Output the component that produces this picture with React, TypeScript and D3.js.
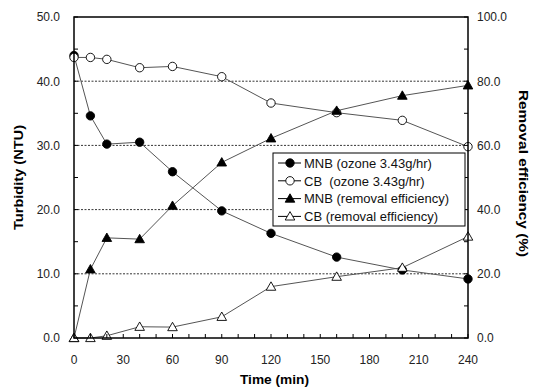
import * as d3 from "d3";

const times = [0, 10, 20, 40, 60, 90, 120, 160, 200, 240];
const mnbTurbidity = [44.0, 34.6, 30.2, 30.5, 25.9, 19.8, 16.3, 12.6, 10.6, 9.2];
const cbTurbidity = [43.7, 43.7, 43.4, 42.1, 42.3, 40.7, 36.6, 35.1, 33.9, 29.8];
const mnbRemoval = [0, 21.4, 31.2, 30.8, 41.2, 54.7, 62.2, 70.8, 75.5, 78.7];
const cbRemoval = [0, 0, 0.7, 3.5, 3.4, 6.6, 16.0, 19.1, 21.9, 31.6];

const xTicks = [0, 30, 60, 90, 120, 150, 180, 210, 240];
const leftTicks = [0, 10, 20, 30, 40, 50];
const rightTicks = [0, 20, 40, 60, 80, 100];
const gridValues = [10, 20, 30, 40];

const legendLabels = [
  "MNB (ozone 3.43g/hr)",
  "CB\u00a0 (ozone 3.43g/hr)",
  "MNB (removal efficiency)",
  "CB (removal efficiency)",
];

const W = 534;
const H = 392;
const m = { left: 74, right: 468, top: 17, bottom: 338 };
const font = "'Liberation Sans', Arial, sans-serif";

type Marker = "circleFilled" | "circleOpen" | "triFilled" | "triOpen";

const MarkerShape = ({ type, x, y }: { type: Marker; x: number; y: number }) => {
  if (type === "circleFilled" || type === "circleOpen") {
    return (
      <circle
        cx={x}
        cy={y}
        r={4.2}
        fill={type === "circleFilled" ? "#000" : "#fff"}
        stroke="#000"
        strokeWidth={0.9}
      />
    );
  }
  const s = 4.8;
  const pts = `${x},${y - s} ${x + s},${y + s * 0.75} ${x - s},${y + s * 0.75}`;
  return (
    <polygon
      points={pts}
      fill={type === "triFilled" ? "#000" : "#fff"}
      stroke="#000"
      strokeWidth={0.9}
    />
  );
};

export default function App() {
  const x = d3.scaleLinear().domain([0, 240]).range([m.left, m.right]);
  const yL = d3.scaleLinear().domain([0, 50]).range([m.bottom, m.top]);
  const yR = d3.scaleLinear().domain([0, 100]).range([m.bottom, m.top]);

  const series: { vals: number[]; y: d3.ScaleLinear<number, number>; marker: Marker }[] = [
    { vals: mnbTurbidity, y: yL, marker: "circleFilled" },
    { vals: cbTurbidity, y: yL, marker: "circleOpen" },
    { vals: mnbRemoval, y: yR, marker: "triFilled" },
    { vals: cbRemoval, y: yR, marker: "triOpen" },
  ];

  const line = (vals: number[], y: d3.ScaleLinear<number, number>) =>
    d3
      .line<number>()
      .x((_, i) => x(times[i]))
      .y((d) => y(d))(vals) ?? "";

  const xMinor = d3.range(0, 241, 10);
  const leftMinor = d3.range(0, 50.1, 5);
  const rightMinor = d3.range(0, 100.1, 10);

  const lg = { x: 273, y: 153, w: 192, h: 73, row: 17.8 };

  return (
    <svg
      width={W}
      height={H}
      style={{ position: "absolute", left: 0, top: 0, background: "#fff" }}
      fontFamily={font}
    >
      {/* grid lines */}
      {gridValues.map((v) => (
        <line
          key={v}
          x1={m.left}
          x2={m.right}
          y1={yL(v)}
          y2={yL(v)}
          stroke="#000"
          strokeWidth={0.8}
          strokeDasharray="2,1.5"
        />
      ))}

      {/* series */}
      {series.map((s, i) => (
        <path key={i} d={line(s.vals, s.y)} fill="none" stroke="#555" strokeWidth={1} />
      ))}
      {series.map((s, i) =>
        s.vals.map((v, j) => <MarkerShape key={`${i}-${j}`} type={s.marker} x={x(times[j])} y={s.y(v)} />)
      )}

      {/* frame */}
      <rect
        x={m.left}
        y={m.top}
        width={m.right - m.left}
        height={m.bottom - m.top}
        fill="none"
        stroke="#000"
        strokeWidth={1.5}
      />

      {/* ticks */}
      {xMinor.map((t) => (
        <line key={t} x1={x(t)} x2={x(t)} y1={m.bottom} y2={m.bottom - 4} stroke="#000" />
      ))}
      {leftMinor.map((t) => (
        <line key={t} x1={m.left} x2={m.left + 4} y1={yL(t)} y2={yL(t)} stroke="#000" />
      ))}
      {rightMinor.map((t) => (
        <line key={t} x1={m.right} x2={m.right - 4} y1={yR(t)} y2={yR(t)} stroke="#000" />
      ))}

      {/* tick labels */}
      {xTicks.map((t) => (
        <text key={t} x={x(t)} y={364} textAnchor="middle" fontSize={12} fill="#222">
          {t}
        </text>
      ))}
      {leftTicks.map((t) => (
        <text key={t} x={60} y={yL(t) + 4.3} textAnchor="end" fontSize={12} fill="#222">
          {t.toFixed(1)}
        </text>
      ))}
      {rightTicks.map((t) => (
        <text key={t} x={477} y={yR(t) + 4.3} textAnchor="start" fontSize={12} fill="#222">
          {t.toFixed(1)}
        </text>
      ))}

      {/* axis titles */}
      <text
        x={274.5}
        y={384}
        textAnchor="middle"
        fontSize={13}
        fontWeight="bold"
        textLength={69}
        lengthAdjust="spacingAndGlyphs"
      >
        Time (min)
      </text>
      <text
        transform="translate(23,177.5) rotate(-90)"
        textAnchor="middle"
        fontSize={13}
        fontWeight="bold"
        textLength={105}
        lengthAdjust="spacingAndGlyphs"
      >
        Turbidity (NTU)
      </text>
      <text
        transform="translate(518.5,173.5) rotate(90)"
        textAnchor="middle"
        fontSize={13}
        fontWeight="bold"
        textLength={167}
        lengthAdjust="spacingAndGlyphs"
      >
        Removal efficiency (%)
      </text>

      {/* legend */}
      <rect x={lg.x} y={lg.y} width={lg.w} height={lg.h} fill="#fff" stroke="#000" strokeWidth={1} />
      {legendLabels.map((label, i) => {
        const cy = lg.y + 10 + i * lg.row;
        return (
          <g key={label}>
            <line x1={lg.x + 5} x2={lg.x + 28} y1={cy} y2={cy} stroke="#000" strokeWidth={1} />
            <MarkerShape type={series[i].marker} x={lg.x + 17} y={cy} />
            <text x={lg.x + 31} y={cy + 4.7} fontSize={13} fill="#111">
              {label}
            </text>
          </g>
        );
      })}
    </svg>
  );
}
